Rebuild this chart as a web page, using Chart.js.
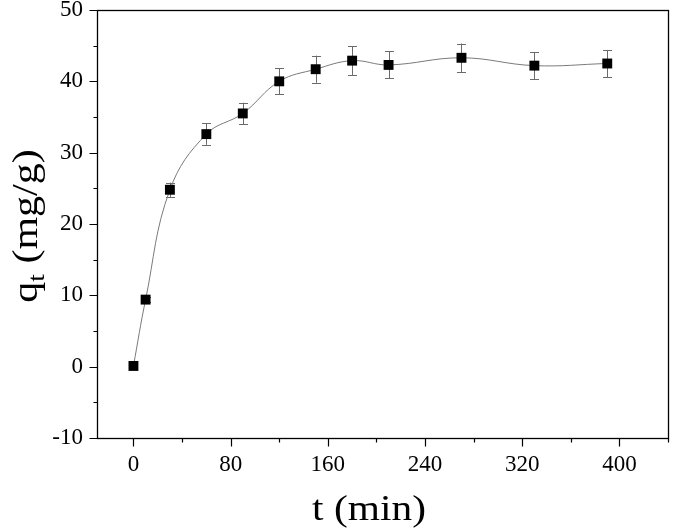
<!DOCTYPE html>
<html><head><meta charset="utf-8">
<script src="https://cdn.jsdelivr.net/npm/chart.js@4"></script>
<style>html,body{margin:0;padding:0;background:#fff}#wrap{width:675px;height:530px}</style>
</head><body><div id="wrap"><canvas id="c" width="675" height="530"></canvas></div>
<script>
const times = [0, 10, 30, 60, 90, 120, 150, 180, 210, 270, 330, 390];
const qt = [0.1, 9.4, 24.8, 32.6, 35.5, 40.0, 41.7, 42.9, 42.3, 43.3, 42.2, 42.5];
const qtErr = [0, 0.4, 1.0, 1.5, 1.5, 1.8, 1.9, 2.0, 1.9, 2.0, 1.9, 1.9];
const xTickValues = [0, 80, 160, 240, 320, 400];
const xMinorTicks = [40, 120, 200, 280, 360, 440];
const yTickValues = [-10, 0, 10, 20, 30, 40, 50];
const yMinorTicks = [-5, 5, 15, 25, 35, 45];
const xTitle = 't (min)';
const yTitleMain = 'q', yTitleSub = 't', yTitleRest = ' (mg/g)';

const FONT = '"Liberation Serif", "Times New Roman", serif';

const decor = {
  id: 'decor',
  beforeDatasetsDraw(chart) {
    const ctx = chart.ctx, xs = chart.scales.x, ys = chart.scales.y;
    ctx.save();
    ctx.strokeStyle = '#6a6a6a';
    ctx.lineWidth = 1;
    times.forEach((t, i) => {
      const e = qtErr[i];
      if (!e) return;
      const px = Math.round(xs.getPixelForValue(t)) + 0.5;
      const top = ys.getPixelForValue(qt[i] + e);
      const bot = ys.getPixelForValue(qt[i] - e);
      ctx.beginPath();
      ctx.moveTo(px, top); ctx.lineTo(px, bot);
      ctx.moveTo(px - 4.5, Math.round(top) + 0.5); ctx.lineTo(px + 4.5, Math.round(top) + 0.5);
      ctx.moveTo(px - 4.5, Math.round(bot) + 0.5); ctx.lineTo(px + 4.5, Math.round(bot) + 0.5);
      ctx.stroke();
    });
    ctx.restore();
  },
  afterDraw(chart) {
    const ctx = chart.ctx, xs = chart.scales.x, ys = chart.scales.y;
    const a = chart.chartArea;
    ctx.save();
    ctx.strokeStyle = '#000';
    ctx.lineWidth = 1.3;
    ctx.strokeRect(Math.round(a.left) + 0.5, Math.round(a.top) + 0.5, Math.round(a.right - a.left), Math.round(a.bottom - a.top));
    ctx.lineWidth = 1.2;
    ctx.beginPath();
    const b = Math.round(a.bottom) + 0.5, l = Math.round(a.left) + 0.5;
    xTickValues.forEach(v => { const p = Math.round(xs.getPixelForValue(v)) + 0.5; ctx.moveTo(p, b); ctx.lineTo(p, b + 8); });
    xMinorTicks.forEach(v => { const p = Math.round(xs.getPixelForValue(v)) + 0.5; ctx.moveTo(p, b); ctx.lineTo(p, b + 4); });
    yTickValues.forEach(v => { const p = Math.round(ys.getPixelForValue(v)) + 0.5; ctx.moveTo(l, p); ctx.lineTo(l - 8, p); });
    yMinorTicks.forEach(v => { const p = Math.round(ys.getPixelForValue(v)) + 0.5; ctx.moveTo(l, p); ctx.lineTo(l - 4, p); });
    ctx.stroke();

    // x title
    ctx.fillStyle = '#000';
    ctx.font = '36px ' + FONT;
    ctx.textBaseline = 'alphabetic';
    ctx.textAlign = 'center';
    ctx.save();
    ctx.translate(369, 520);
    ctx.scale(1.15, 1);
    ctx.fillText(xTitle, 0, 0);
    ctx.restore();

    // y title with subscript
    ctx.save();
    ctx.translate(37, 226);
    ctx.rotate(-Math.PI / 2);
    ctx.scale(1.2, 1);
    ctx.textAlign = 'left';
    ctx.font = '35px ' + FONT;
    const wq = ctx.measureText(yTitleMain).width;
    const wr = ctx.measureText(yTitleRest).width;
    ctx.font = '23px ' + FONT;
    const ws = ctx.measureText(yTitleSub).width;
    const total = wq + ws + wr;
    let x0 = -total / 2;
    ctx.font = '35px ' + FONT;
    ctx.fillText(yTitleMain, x0, 0);
    ctx.font = '23px ' + FONT;
    ctx.fillText(yTitleSub, x0 + wq, 7);
    ctx.font = '35px ' + FONT;
    ctx.fillText(yTitleRest, x0 + wq + ws, 0);
    ctx.restore();
    ctx.restore();
  }
};

function fitScale(s, w, h) {
  if (w !== undefined) s.width = w;
  if (h !== undefined) s.height = h;
  s.paddingTop = 0; s.paddingBottom = 0; s.paddingLeft = 0; s.paddingRight = 0;
}

function build() {
  new Chart(document.getElementById('c'), {
    type: 'line',
    data: {
      datasets: [{
        data: times.map((t, i) => ({ x: t, y: qt[i] })),
        borderColor: '#7a7a7a',
        borderWidth: 1,
        tension: 0.4,
        pointStyle: 'rect',
        pointRadius: 7,
        pointBackgroundColor: '#000',
        pointBorderColor: '#000',
        pointBorderWidth: 0,
        fill: false
      }]
    },
    options: {
      responsive: false,
      animation: false,
      devicePixelRatio: 1,
      layout: { padding: { left: 0, right: 3, top: 10, bottom: 0 } },
      plugins: { legend: { display: false }, tooltip: { enabled: false } },
      scales: {
        x: {
          type: 'linear', min: -30, max: 440,
          grid: { display: false, drawTicks: false },
          border: { display: false },
          afterBuildTicks: s => { s.ticks = xTickValues.map(v => ({ value: v })); },
          afterFit: s => fitScale(s, undefined, 92),
          ticks: { color: '#000', padding: 13, font: { family: FONT, size: 23 }, maxRotation: 0 }
        },
        y: {
          type: 'linear', min: -10, max: 50,
          grid: { display: false, drawTicks: false },
          border: { display: false },
          afterBuildTicks: s => { s.ticks = yTickValues.map(v => ({ value: v })); },
          afterFit: s => fitScale(s, 97, undefined),
          ticks: { color: '#000', padding: 14, font: { family: FONT, size: 23 } }
        }
      }
    },
    plugins: [decor]
  });
}

Promise.all([
  document.fonts.load('23px "Liberation Serif"'),
  document.fonts.load('36px "Liberation Serif"')
]).then(build, build);
</script>
</body></html>
